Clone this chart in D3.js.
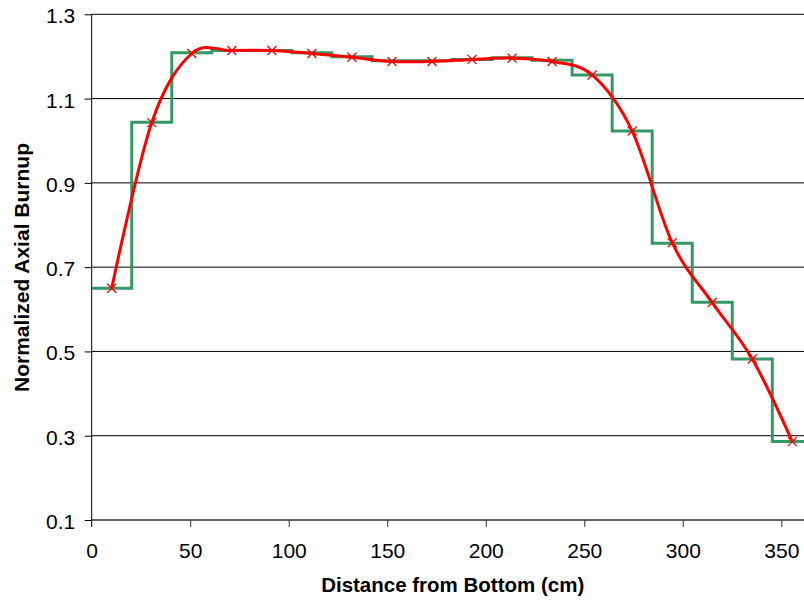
<!DOCTYPE html>
<html>
<head>
<meta charset="utf-8">
<script src="https://cdn.jsdelivr.net/npm/d3@7"></script>
<style>
  html, body { margin: 0; padding: 0; background: #fff; }
  svg { display: block; }
  text { font-family: "Liberation Sans", Arial, sans-serif; fill: #000; }
</style>
</head>
<body>
<svg id="chart" width="804" height="602"></svg>
<script>
// ---- data ----
const nodeEdges = [0, 20.32, 40.64, 60.96, 81.28, 101.6, 121.92, 142.24, 162.56, 182.88,
                   203.2, 223.52, 243.84, 264.16, 284.48, 304.8, 325.12, 345.44, 365.76];
const nodeBurnup = [0.650, 1.044, 1.209, 1.214, 1.214, 1.209, 1.199, 1.190, 1.190, 1.193,
                    1.197, 1.191, 1.156, 1.023, 0.757, 0.617, 0.482, 0.286];
const pointDistance = [10.16, 30.48, 50.8, 71.12, 91.44, 111.76, 132.08, 152.4, 172.72, 193.04,
                       213.36, 233.68, 254.0, 274.32, 294.64, 314.96, 335.28, 355.6];
const pointBurnup = [0.650, 1.043, 1.207, 1.214, 1.214, 1.207, 1.198, 1.188, 1.188, 1.193,
                     1.196, 1.188, 1.156, 1.023, 0.758, 0.616, 0.482, 0.286];
const xTicks = [0, 50, 100, 150, 200, 250, 300, 350];
const yTicks = [0.1, 0.3, 0.5, 0.7, 0.9, 1.1, 1.3];
const xTitle = "Distance from Bottom (cm)";
const yTitle = "Normalized Axial Burnup";

// ---- layout ----
const W = 804, H = 602;
const svg = d3.select("#chart");
const x = d3.scaleLinear().domain([0, 350]).range([91.7, 781.3]);
const y = d3.scaleLinear().domain([0.1, 1.3]).range([520, 14.3]);

// clip for plot area
svg.append("defs").append("clipPath").attr("id", "plotClip")
  .append("rect").attr("x", x(0)).attr("y", 0).attr("width", W - x(0)).attr("height", y(0.1) + 2);

// gridlines
svg.append("g").selectAll("line").data(yTicks.filter(d => d > 0.1)).join("line")
  .attr("x1", x(0)).attr("x2", W)
  .attr("y1", d => y(d)).attr("y2", d => y(d))
  .attr("stroke", "#000").attr("stroke-width", 1);

// y axis
const yAxis = d3.axisLeft(y).tickValues(yTicks).tickSize(7).tickPadding(10)
  .tickFormat(d3.format(".1f"));
const gy = svg.append("g").attr("transform", `translate(${x(0)},0)`).call(yAxis);
gy.select(".domain").remove();
gy.selectAll(".tick line").attr("stroke", "#000");
gy.selectAll(".tick text").attr("font-size", 21).attr("dy", null).attr("y", 8.5)
  .attr("x", -16.5).attr("font-family", "Liberation Sans, Arial, sans-serif").attr("fill", "#000");
svg.append("line").attr("x1", x(0)).attr("x2", x(0)).attr("y1", y(1.3)).attr("y2", y(0.1) + 7)
  .attr("stroke", "#000").attr("stroke-width", 1);

// x axis
const xAxis = d3.axisBottom(x).tickValues(xTicks).tickSize(7).tickPadding(0).tickFormat(d3.format("d"));
const gx = svg.append("g").attr("transform", `translate(0,${y(0.1)})`).call(xAxis);
gx.select(".domain").remove();
gx.selectAll(".tick line").attr("stroke", "#333").attr("stroke-width", 1)
  .style("display", d => d === 0 ? "none" : null);
gx.selectAll(".tick text").attr("font-size", 21).attr("dy", null).attr("y", 37.5)
  .attr("font-family", "Liberation Sans, Arial, sans-serif").attr("fill", "#000");
svg.append("line").attr("x1", x(0)).attr("x2", W).attr("y1", y(0.1)).attr("y2", y(0.1))
  .attr("stroke", "#333").attr("stroke-width", 1.5);

// step series
const stepData = nodeEdges.map((e, i) => [e, nodeBurnup[Math.min(i, nodeBurnup.length - 1)]]);
const stepLine = d3.line().x(d => x(d[0])).y(d => y(d[1])).curve(d3.curveStepAfter);
svg.append("path").datum(stepData).attr("d", stepLine)
  .attr("clip-path", "url(#plotClip)")
  .attr("fill", "none").attr("stroke", "#339966").attr("stroke-width", 3)
  .attr("stroke-linejoin", "miter");

// smooth series
const pts = pointDistance.map((d, i) => [d, pointBurnup[i]]);
const smooth = d3.line().x(d => x(d[0])).y(d => y(d[1])).curve(d3.curveCardinal.tension(0));
svg.append("path").datum(pts).attr("d", smooth)
  .attr("clip-path", "url(#plotClip)")
  .attr("fill", "none").attr("stroke", "#ff0000").attr("stroke-width", 3)
  .attr("stroke-linejoin", "round");

// markers
const ms = 4.5;
svg.append("g").selectAll("path").data(pts).join("path")
  .attr("d", d => {
    const cx = x(d[0]), cy = y(d[1]);
    return `M${cx - ms},${cy - ms}L${cx + ms},${cy + ms}M${cx - ms},${cy + ms}L${cx + ms},${cy - ms}`;
  })
  .attr("stroke", "#ff0000").attr("stroke-width", 1.3).attr("fill", "none");

// titles
svg.append("text").attr("x", 452.7).attr("y", 591.5).attr("text-anchor", "middle")
  .attr("font-size", 20.5).attr("font-weight", "bold").text(xTitle);
svg.append("text").attr("transform", "translate(28.5,267.5) rotate(-90)").attr("text-anchor", "middle")
  .attr("font-size", 21).attr("font-weight", "bold").text(yTitle);
</script>
</body>
</html>
